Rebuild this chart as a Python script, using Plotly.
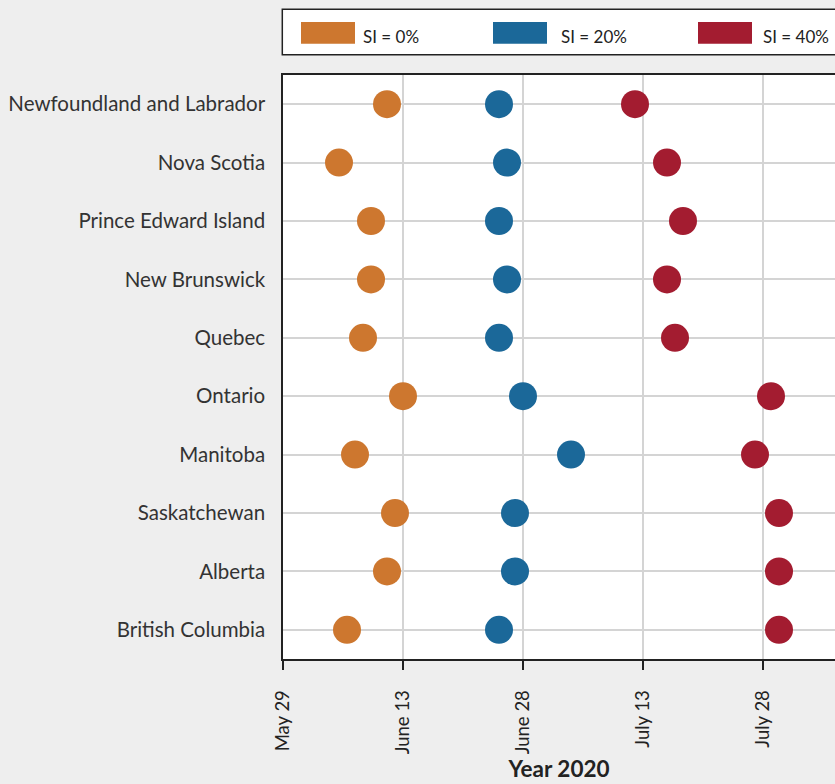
import plotly.graph_objects as go

provinces = [
    "Newfoundland and Labrador", "Nova Scotia", "Prince Edward Island",
    "New Brunswick", "Quebec", "Ontario", "Manitoba", "Saskatchewan",
    "Alberta", "British Columbia",
]
series_names = ["SI = 0%", "SI = 20%", "SI = 40%"]
series_colors = ["#CD772F", "#1B6899", "#A31C30"]

si0 = ["2020-06-11", "2020-06-05", "2020-06-09", "2020-06-09", "2020-06-08",
       "2020-06-13", "2020-06-07", "2020-06-12", "2020-06-11", "2020-06-06"]
si20 = ["2020-06-25", "2020-06-26", "2020-06-25", "2020-06-26", "2020-06-25",
        "2020-06-28", "2020-07-04", "2020-06-27", "2020-06-27", "2020-06-25"]
si40 = ["2020-07-12", "2020-07-16", "2020-07-18", "2020-07-16", "2020-07-17",
        "2020-07-29", "2020-07-27", "2020-07-30", "2020-07-30", "2020-07-30"]
series_values = [si0, si20, si40]

tick_dates = ["2020-05-29", "2020-06-13", "2020-06-28", "2020-07-13", "2020-07-28"]
tick_labels = ["May 29", "June 13", "June 28", "July 13", "July 28"]
x_range = ["2020-05-29", "2020-08-06"]

FONT = "Lato"
W, H = 835, 784
ML, MT, MR = 283, 75, 0
MB = H - 659
PW, PH = W - ML - MR, H - MT - MB


def px_x(px):
    return (px - ML) / PW


def px_y(py):
    return (H - MB - py) / PH


fig = go.Figure()
for name, vals, col in zip(series_names, series_values, series_colors):
    fig.add_trace(go.Scatter(
        x=vals, y=provinces, mode="markers", name=name,
        marker=dict(size=28, color=col, line=dict(width=0)),
        showlegend=False,
    ))

# custom legend box
shapes = [dict(type="rect", xref="paper", yref="paper",
               x0=px_x(282.3), x1=px_x(900), y0=px_y(54.7), y1=px_y(9.3),
               line=dict(color="#222222", width=1.5), fillcolor="white", layer="above")]
annotations = []
swatch_x = [301, 493, 698]
text_x = [361, 559, 761]
for sx, tx, name, col in zip(swatch_x, text_x, series_names, series_colors):
    shapes.append(dict(type="rect", xref="paper", yref="paper",
                       x0=px_x(sx), x1=px_x(sx + 54), y0=px_y(43.7), y1=px_y(22),
                       line=dict(width=0), fillcolor=col, layer="above"))
    annotations.append(dict(xref="paper", yref="paper", x=px_x(tx), y=px_y(36.5),
                            xanchor="left", yanchor="middle", showarrow=False,
                            text=name, font=dict(family=FONT, size=17, color="#222222")))

fig.update_layout(
    width=W, height=H,
    margin=dict(l=ML, r=MR, t=MT, b=MB, pad=0),
    paper_bgcolor="#EEEEEE", plot_bgcolor="white",
    font=dict(family=FONT, color="#333333"),
    shapes=shapes, annotations=annotations,
)
fig.update_xaxes(
    type="date", range=x_range,
    tickvals=tick_dates, ticktext=tick_labels, tickangle=-90,
    tickfont=dict(family=FONT, size=18.5, color="#222222"),
    ticks="outside", ticklen=9, tickwidth=1.5, tickcolor="#222222",
    ticklabelstandoff=13,
    showgrid=True, gridcolor="#D4D4D4", gridwidth=2,
    showline=True, linecolor="#222222", linewidth=1.5, mirror=True,
    zeroline=False,
    title=dict(text="<b>Year 2020</b>", font=dict(family=FONT, size=22.5, color="#222222"), standoff=8),
    automargin=False,
)
fig.update_yaxes(
    type="category", categoryorder="array", categoryarray=provinces,
    range=[len(provinces) - 0.5, -0.5],
    tickfont=dict(family=FONT, size=20.5, color="#333333"),
    ticks="", ticklabelstandoff=12,
    showgrid=True, gridcolor="#D4D4D4", gridwidth=2,
    showline=True, linecolor="#222222", linewidth=1.5, mirror=False,
    zeroline=False, automargin=False,
)

fig.write_html(
    "out.html",
    config={"displayModeBar": False},
    post_script="document.body.style.margin='0';document.body.style.overflow='hidden';",
)
